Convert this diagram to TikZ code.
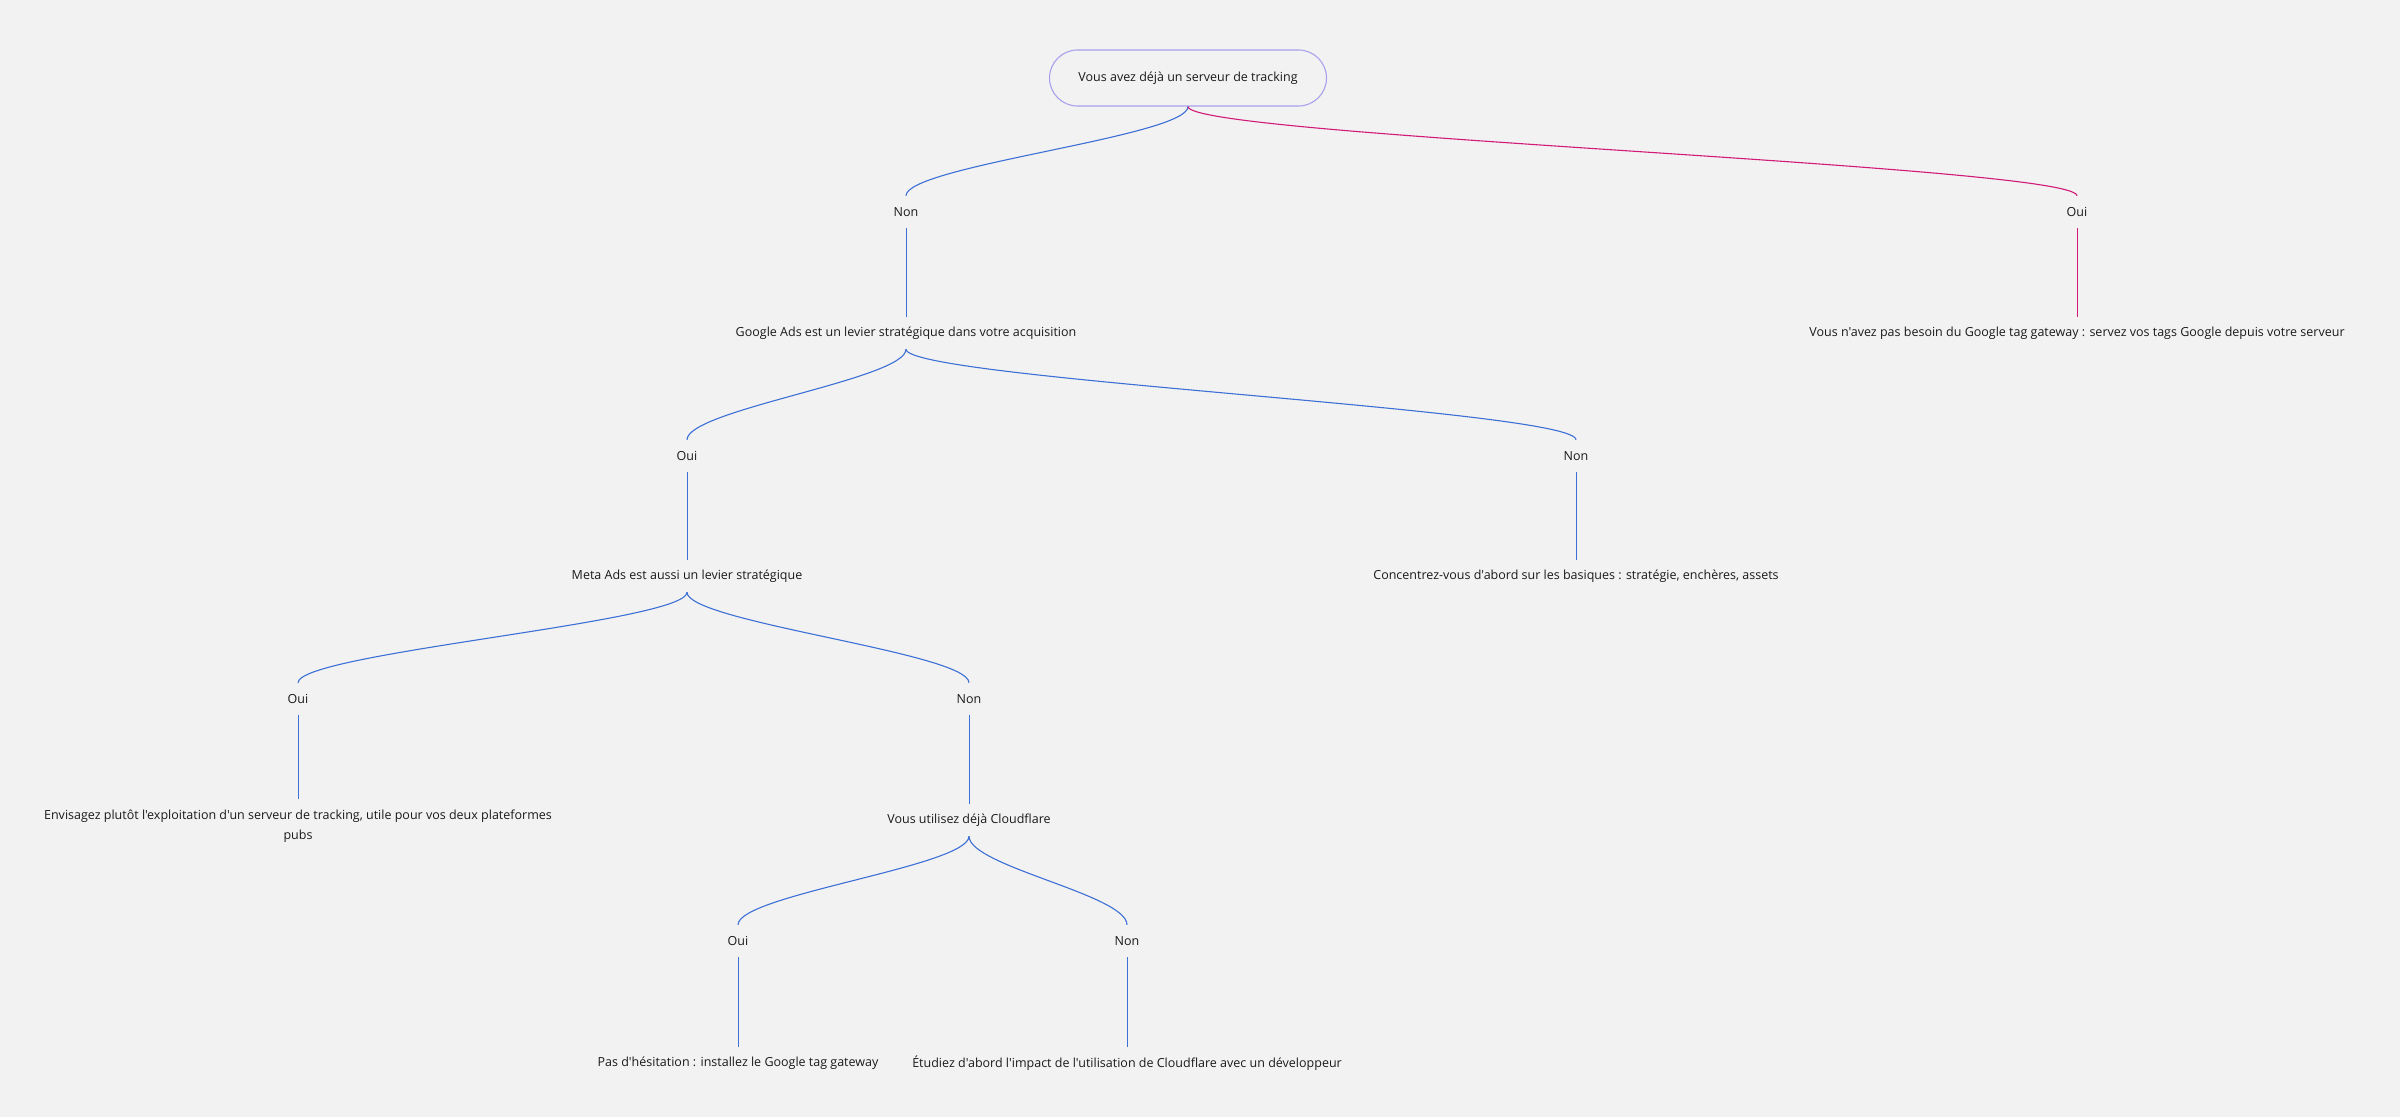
\documentclass[tikz,border=0pt]{standalone}
\usepackage{fontspec}
\setmainfont{Open Sans}[Ligatures=TeXOff]
\definecolor{bgc}{HTML}{F2F2F2}
\definecolor{bluec}{HTML}{3C70D6}
\definecolor{magc}{HTML}{D21A78}
\definecolor{rootc}{HTML}{A8A1EE}
\definecolor{txtc}{HTML}{1A1A1A}
\tikzset{
  txt/.style={font=\fontsize{12.5}{15}\selectfont, text=txtc, inner sep=0pt, minimum height=32pt, anchor=center},
  rootbox/.style={txt, draw=rootc, line width=1.1pt, rounded corners=28pt, minimum width=277pt, minimum height=56pt},
  conn/.style={draw=bluec, line width=1.1pt},
  connm/.style={draw=magc, line width=1.1pt},
  vconn/.style={draw=bluec, line width=1pt},
  vconnm/.style={draw=magc, line width=1pt},
}
\begin{document}
\begin{tikzpicture}[x=1pt,y=-1pt]
\fill[bgc] (0,0) rectangle (2400,1117);
\useasboundingbox (0,0) rectangle (2400,1117);

\node[rootbox] (root) at (1188,78) {Vous avez déjà un serveur de tracking};

\node[txt] (n1) at (906,212) {Non};
\node[txt] (o1) at (2077,212) {Oui};
\node[txt] (q2) at (906,333) {Google Ads est un levier stratégique dans votre acquisition};
\node[txt] (r1) at (2077,333) {Vous n'avez pas besoin du Google tag gateway : servez vos tags Google depuis votre serveur};

\node[txt] (o2) at (687,456) {Oui};
\node[txt] (n2) at (1576,456) {Non};
\node[txt] (q3) at (687,576) {Meta Ads est aussi un levier stratégique};
\node[txt] (r2) at (1576,576) {Concentrez-vous d'abord sur les basiques : stratégie, enchères, assets};

\node[txt] (o3) at (298,699) {Oui};
\node[txt] (n3) at (969,699) {Non};
\node[txt, align=center, font=\fontsize{12.5}{20}\selectfont, minimum height=0pt, inner ysep=11pt, anchor=north] (r3) at (298,799) {Envisagez plutôt l'exploitation d'un serveur de tracking, utile pour vos deux plateformes\\pubs};
\node[txt] (q4) at (969,820) {Vous utilisez déjà Cloudflare};

\node[txt] (o4) at (738,941) {Oui};
\node[txt] (n4) at (1127,941) {Non};
\node[txt] (r4) at (738,1063) {Pas d'hésitation : installez le Google tag gateway};
\node[txt] (r5) at (1127,1063) {Étudiez d'abord l'impact de l'utilisation de Cloudflare avec un développeur};

% curves
\draw[conn] (root.south) .. controls +(0,30) and +(0,-30) .. (n1.north);
\draw[connm] (root.south) .. controls +(0,30) and +(0,-30) .. (o1.north);
\draw[conn] (q2.south) .. controls +(0,30) and +(0,-30) .. (o2.north);
\draw[conn] (q2.south) .. controls +(0,30) and +(0,-30) .. (n2.north);
\draw[conn] (q3.south) .. controls +(0,30) and +(0,-30) .. (o3.north);
\draw[conn] (q3.south) .. controls +(0,30) and +(0,-30) .. (n3.north);
\draw[conn] (q4.south) .. controls +(0,30) and +(0,-30) .. (o4.north);
\draw[conn] (q4.south) .. controls +(0,30) and +(0,-30) .. (n4.north);

% straight
\draw[vconn] (n1.south) -- (q2.north);
\draw[vconnm] (o1.south) -- (r1.north);
\draw[vconn] (o2.south) -- (q3.north);
\draw[vconn] (n2.south) -- (r2.north);
\draw[vconn] (o3.south) -- (r3.north);
\draw[vconn] (n3.south) -- (q4.north);
\draw[vconn] (o4.south) -- (r4.north);
\draw[vconn] (n4.south) -- (r5.north);
\end{tikzpicture}
\end{document}
